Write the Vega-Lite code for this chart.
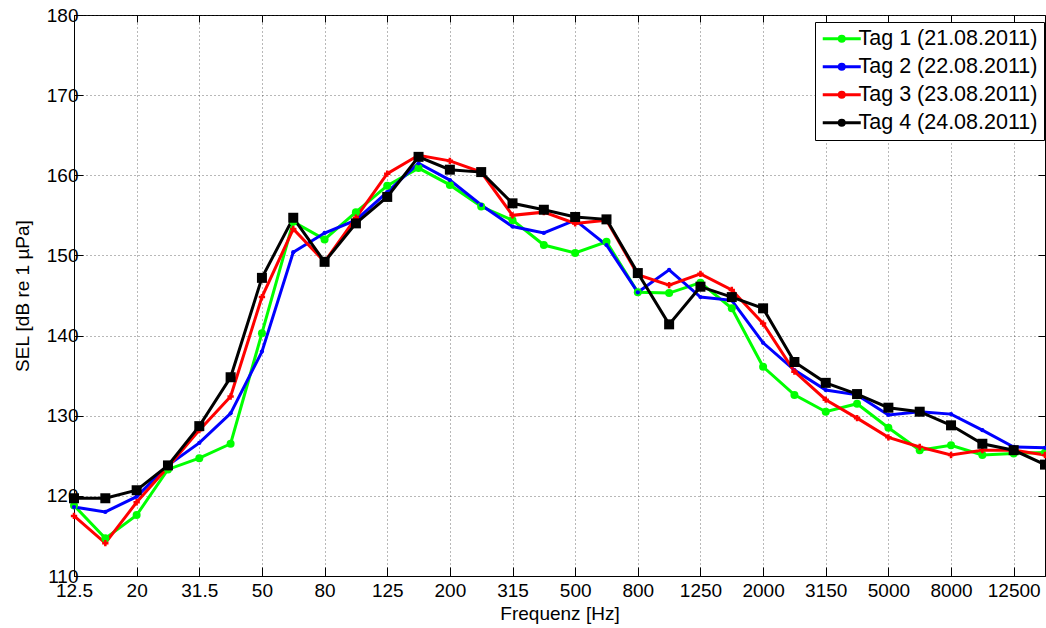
{
  "$schema": "https://vega.github.io/schema/vega-lite/v6.json",
  "width": 971,
  "height": 561,
  "autosize": "none",
  "padding": {"left": 74, "top": 15, "right": 1, "bottom": 52},
  "background": "white",
  "config": {
    "font": "Liberation Sans",
    "view": {"stroke": "black", "strokeWidth": 1},
    "axis": {
      "labelFont": "Liberation Sans",
      "titleFont": "Liberation Sans",
      "labelFontSize": 19,
      "titleFontSize": 19,
      "titleFontWeight": "normal",
      "labelColor": "black",
      "titleColor": "black",
      "domainColor": "black",
      "tickColor": "black",
      "labelFlush": false,
      "labelOverlap": false,
      "labelBound": false
    }
  },
  "data": {
    "values": [
      {"f": "12.5", "t1": 118.8, "t2": 118.6, "t3": 117.5, "t4": 119.7},
      {"f": "16", "t1": 114.7, "t2": 118.0, "t3": 114.1, "t4": 119.7},
      {"f": "20", "t1": 117.6, "t2": 119.9, "t3": 119.2, "t4": 120.7},
      {"f": "25", "t1": 123.3, "t2": 123.8, "t3": 123.6, "t4": 123.8},
      {"f": "31.5", "t1": 124.7, "t2": 126.6, "t3": 128.2, "t4": 128.7},
      {"f": "40", "t1": 126.5, "t2": 130.3, "t3": 132.4, "t4": 134.8},
      {"f": "50", "t1": 140.3, "t2": 138.0, "t3": 144.8, "t4": 147.2},
      {"f": "63", "t1": 154.2, "t2": 150.4, "t3": 153.3, "t4": 154.7},
      {"f": "80", "t1": 152.0, "t2": 152.8, "t3": 149.2, "t4": 149.2},
      {"f": "100", "t1": 155.4, "t2": 154.4, "t3": 154.7, "t4": 154.0},
      {"f": "125", "t1": 158.7, "t2": 157.9, "t3": 160.2, "t4": 157.3},
      {"f": "160", "t1": 160.9, "t2": 161.5, "t3": 162.5, "t4": 162.3},
      {"f": "200", "t1": 158.8, "t2": 159.4, "t3": 161.8, "t4": 160.7},
      {"f": "250", "t1": 156.1, "t2": 156.3, "t3": 160.4, "t4": 160.4},
      {"f": "315", "t1": 154.4, "t2": 153.6, "t3": 155.0, "t4": 156.5},
      {"f": "400", "t1": 151.3, "t2": 152.8, "t3": 155.4, "t4": 155.7},
      {"f": "500", "t1": 150.3, "t2": 154.4, "t3": 154.0, "t4": 154.8},
      {"f": "630", "t1": 151.7, "t2": 151.3, "t3": 154.4, "t4": 154.5},
      {"f": "800", "t1": 145.4, "t2": 145.4, "t3": 147.6, "t4": 147.8},
      {"f": "1000", "t1": 145.3, "t2": 148.2, "t3": 146.3, "t4": 141.4},
      {"f": "1250", "t1": 146.6, "t2": 144.8, "t3": 147.7, "t4": 146.1},
      {"f": "1600", "t1": 143.4, "t2": 144.4, "t3": 145.7, "t4": 144.8},
      {"f": "2000", "t1": 136.1, "t2": 139.1, "t3": 141.5, "t4": 143.4},
      {"f": "2500", "t1": 132.6, "t2": 135.7, "t3": 135.5, "t4": 136.7},
      {"f": "3150", "t1": 130.5, "t2": 133.2, "t3": 132.0, "t4": 134.1},
      {"f": "4000", "t1": 131.5, "t2": 132.6, "t3": 129.7, "t4": 132.7},
      {"f": "5000", "t1": 128.5, "t2": 130.1, "t3": 127.3, "t4": 131.0},
      {"f": "6300", "t1": 125.7, "t2": 130.5, "t3": 126.1, "t4": 130.5},
      {"f": "8000", "t1": 126.3, "t2": 130.2, "t3": 125.1, "t4": 128.8},
      {"f": "10000", "t1": 125.1, "t2": 128.2, "t3": 125.7, "t4": 126.5},
      {"f": "12500", "t1": 125.3, "t2": 126.1, "t3": 125.7, "t4": 125.7},
      {"f": "16000", "t1": 125.4, "t2": 126.0, "t3": 125.1, "t4": 123.9}
    ]
  },
  "transform": [{"fold": ["t1", "t2", "t3", "t4"], "as": ["key", "value"]}],
  "encoding": {
    "x": {
      "field": "f", "type": "ordinal", "sort": null,
      "scale": {"type": "point", "padding": 0, "domain": ["12.5","16","20","25","31.5","40","50","63","80","100","125","160","200","250","315","400","500","630","800","1000","1250","1600","2000","2500","3150","4000","5000","6300","8000","10000","12500","16000"]}
    },
    "y": {
      "field": "value", "type": "quantitative",
      "scale": {"domain": [110, 180], "nice": false, "zero": false}
    }
  },
  "layer": [
    {
      "mark": {"type": "line", "strokeWidth": 3},
      "encoding": {
        "x": {
          "field": "f", "type": "ordinal", "sort": null,
          "axis": {
            "orient": "bottom", "title": "Frequenz [Hz]", "titlePadding": 4,
            "values": ["12.5","20","31.5","50","80","125","200","315","500","800","1250","2000","3150","5000","8000","12500"],
            "labelAngle": 0, "tickSize": -9, "labelPadding": 14,
            "grid": true, "gridDash": [1, 3], "gridColor": "#333", "gridOpacity": 0.7
          }
        },
        "y": {
          "field": "value", "type": "quantitative",
          "axis": {
            "orient": "left", "title": "SEL [dB re 1 µPa]", "titlePadding": 14,
            "values": [110,120,130,140,150,160,170,180],
            "tickSize": -9, "labelPadding": 5,
            "grid": true, "gridDash": [1, 3], "gridColor": "#333", "gridOpacity": 0.7
          }
        },
        "color": {
          "field": "key", "type": "nominal",
          "scale": {"domain": ["t1","t2","t3","t4"], "range": ["#00ff00","#0000ff","#ff0000","#000000"]},
          "legend": {
            "title": null, "orient": "none", "legendX": 741, "legendY": 7,
            "direction": "vertical", "padding": 6,
            "strokeColor": "black", "fillColor": "white",
            "labelFont": "Liberation Sans", "labelFontSize": 21.5, "labelColor": "black", "labelLimit": 400,
            "symbolType": "M-3.8,0H3.8M-0.5,0A0.5,0.5 0 1,0 0.5,0A0.5,0.5 0 1,0 -0.5,0Z",
            "symbolSize": 100, "symbolOffset": 10, "labelOffset": 6, "rowPadding": 5,
            "symbolStrokeWidth": 3,
            "labelExpr": "datum.value == 't1' ? 'Tag 1 (21.08.2011)' : datum.value == 't2' ? 'Tag 2 (22.08.2011)' : datum.value == 't3' ? 'Tag 3 (23.08.2011)' : 'Tag 4 (24.08.2011)'"
          }
        }
      }
    },
    {
      "transform": [{"filter": "datum.key == 't1'"}],
      "mark": {"type": "point", "filled": true, "opacity": 1, "shape": "circle", "size": 64},
      "encoding": {
        "color": {"field": "key", "type": "nominal", "legend": null},
        "x": {"field": "f", "type": "ordinal", "sort": null, "axis": null},
        "y": {"field": "value", "type": "quantitative", "axis": null}
      }
    },
    {
      "transform": [{"filter": "datum.key == 't2'"}],
      "mark": {"type": "point", "filled": true, "opacity": 1, "shape": "circle", "size": 18},
      "encoding": {
        "color": {"field": "key", "type": "nominal", "legend": null},
        "x": {"field": "f", "type": "ordinal", "sort": null, "axis": null},
        "y": {"field": "value", "type": "quantitative", "axis": null}
      }
    },
    {
      "transform": [{"filter": "datum.key == 't3'"}],
      "mark": {"type": "point", "filled": true, "opacity": 1, "shape": "cross", "size": 40},
      "encoding": {
        "color": {"field": "key", "type": "nominal", "legend": null},
        "x": {"field": "f", "type": "ordinal", "sort": null, "axis": null},
        "y": {"field": "value", "type": "quantitative", "axis": null}
      }
    },
    {
      "transform": [{"filter": "datum.key == 't4'"}],
      "mark": {"type": "point", "filled": true, "opacity": 1, "shape": "square", "size": 100},
      "encoding": {
        "color": {"field": "key", "type": "nominal", "legend": null},
        "x": {
          "field": "f", "type": "ordinal", "sort": null,
          "axis": {
            "orient": "top", "title": null, "labels": false, "grid": false, "domain": false,
            "values": ["12.5","20","31.5","50","80","125","200","315","500","800","1250","2000","3150","5000","8000","12500"],
            "tickSize": -7
          }
        },
        "y": {
          "field": "value", "type": "quantitative",
          "axis": {
            "orient": "right", "title": null, "labels": false, "grid": false, "domain": false,
            "values": [110,120,130,140,150,160,170,180],
            "tickSize": -7
          }
        }
      }
    }
  ],
  "resolve": {"axis": {"x": "independent", "y": "independent"}}
}
